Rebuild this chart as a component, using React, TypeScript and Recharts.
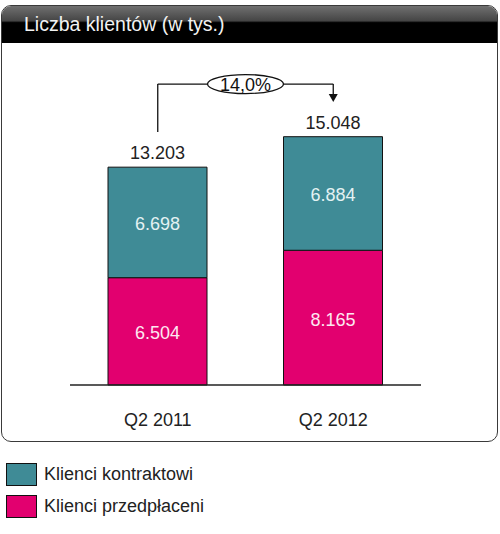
import { BarChart, Bar, XAxis, YAxis, LabelList, ReferenceLine } from "recharts";

const categories = ["Q2 2011", "Q2 2012"];
const prepaid = [6504, 8165];
const contract = [6698, 6884];
const totals = [13203, 15048];

const seriesNames = ["Klienci kontraktowi", "Klienci przedpłaceni"];
const seriesColors = ["#3f8b96", "#e2006f"];

const FONT = "'Liberation Sans', Arial, sans-serif";
const INK = "#222";

const data = categories.map((c, i) => ({
  cat: c,
  prepaid: prepaid[i],
  contract: contract[i],
  total: totals[i],
}));

const fmt = (v: number) => `${Math.floor(v / 1000)}.${String(v % 1000).padStart(3, "0")}`;
const growth = `${((totals[1] / totals[0] - 1) * 100).toFixed(1).replace(".", ",")}%`;

function CategoryTick({ x, y, payload }: any) {
  return (
    <text x={x} y={y + 41} textAnchor="middle" fill={INK} fontSize={18} fontFamily={FONT}>
      {payload.value}
    </text>
  );
}

function TotalLabel({ x, y, width, index }: any) {
  return (
    <text x={x + width / 2} y={y - 8} textAnchor="middle" fill={INK} fontSize={18} fontFamily={FONT}>
      {fmt(totals[index])}
    </text>
  );
}

function InnerLabel({ x, y, width, height, value, textColor }: any) {
  return (
    <text
      x={x + width / 2}
      y={y + height / 2 + 8}
      textAnchor="middle"
      fill={textColor}
      fontSize={18}
      fontFamily={FONT}
    >
      {fmt(value)}
    </text>
  );
}

function PlainLine({ x1, y1, x2, y2 }: any) {
  return <line x1={x1} y1={y1} x2={x2} y2={y2} stroke="#111" strokeWidth={1.3} />;
}

function GrowthLine({ x1, y1, x2, y2 }: any) {
  const cx = (x1 + x2) / 2;
  return (
    <g>
      <line x1={x1} y1={y1} x2={x2} y2={y2} stroke="#111" strokeWidth={1.3} />
      <ellipse cx={cx} cy={y1} rx={38} ry={9.5} fill="#fff" stroke="#111" strokeWidth={1.3} />
      <text x={cx} y={y1 + 6.5} textAnchor="middle" fill="#111" fontSize={18} fontFamily={FONT}>
        {growth}
      </text>
    </g>
  );
}

function ArrowLine({ x1, y1, x2, y2 }: any) {
  return (
    <g>
      <line x1={x1} y1={y1} x2={x2} y2={y2 - 7} stroke="#111" strokeWidth={1.3} />
      <polygon points={`${x2 - 4.5},${y2 - 8} ${x2 + 4.5},${y2 - 8} ${x2},${y2}`} fill="#111" />
    </g>
  );
}

export default function App() {
  return (
    <div style={{ position: "absolute", left: 0, top: 0, width: 500, height: 534, background: "#fff" }}>
      <div
        style={{
          position: "absolute",
          left: 1,
          top: 5,
          width: 495,
          height: 435,
          border: "1.5px solid #3a3a3a",
          borderRadius: 10,
          overflow: "hidden",
        }}
      >
        <div
          style={{
            height: 37,
            background: "linear-gradient(to bottom, #707070 0%, #454545 40%, #000 45%, #000 100%)",
            color: "#f2f2f2",
            fontFamily: FONT,
            fontSize: 19.5,
            lineHeight: "37px",
            paddingLeft: 22,
          }}
        >
          Liczba klientów (w tys.)
        </div>
      </div>
      <div style={{ position: "absolute", left: 0, top: 0 }}>
        <BarChart width={500} height={534} data={data} margin={{ top: 55, right: 79, bottom: 119, left: 70 }}>
          <YAxis hide domain={[0, 20000]} />
          <XAxis
            dataKey="cat"
            height={30}
            axisLine={{ stroke: INK, strokeWidth: 1.5 }}
            tickLine={false}
            tickSize={0}
            tickMargin={0}
            tick={<CategoryTick />}
          />
          <Bar dataKey="prepaid" stackId="a" barSize={99} fill={seriesColors[1]} stroke="#111" strokeWidth={1} isAnimationActive={false}>
            <LabelList dataKey="prepaid" content={<InnerLabel textColor="#fde8f1" />} />
          </Bar>
          <Bar dataKey="contract" stackId="a" barSize={99} fill={seriesColors[0]} stroke="#111" strokeWidth={1} isAnimationActive={false}>
            <LabelList dataKey="contract" content={<InnerLabel textColor="#e4f2f3" />} />
            <LabelList dataKey="total" content={<TotalLabel />} />
          </Bar>
          <ReferenceLine
            segment={[{ x: categories[0], y: 15330 }, { x: categories[0], y: 18240 }]}
            shape={<PlainLine />}
          />
          <ReferenceLine
            segment={[{ x: categories[1], y: 18240 }, { x: categories[1], y: 17150 }]}
            shape={<ArrowLine />}
          />
          <ReferenceLine
            segment={[{ x: categories[0], y: 18240 }, { x: categories[1], y: 18240 }]}
            shape={<GrowthLine />}
          />
        </BarChart>
      </div>
      {seriesNames.map((name, i) => (
        <div key={name} style={{ position: "absolute", left: 6, top: 463 + i * 32, display: "flex", alignItems: "center" }}>
          <div
            style={{
              width: 29,
              height: 21,
              background: seriesColors[i],
              border: "1px solid #111",
            }}
          />
          <span style={{ marginLeft: 7, fontFamily: FONT, fontSize: 18, color: INK, lineHeight: "23px" }}>{name}</span>
        </div>
      ))}
    </div>
  );
}
